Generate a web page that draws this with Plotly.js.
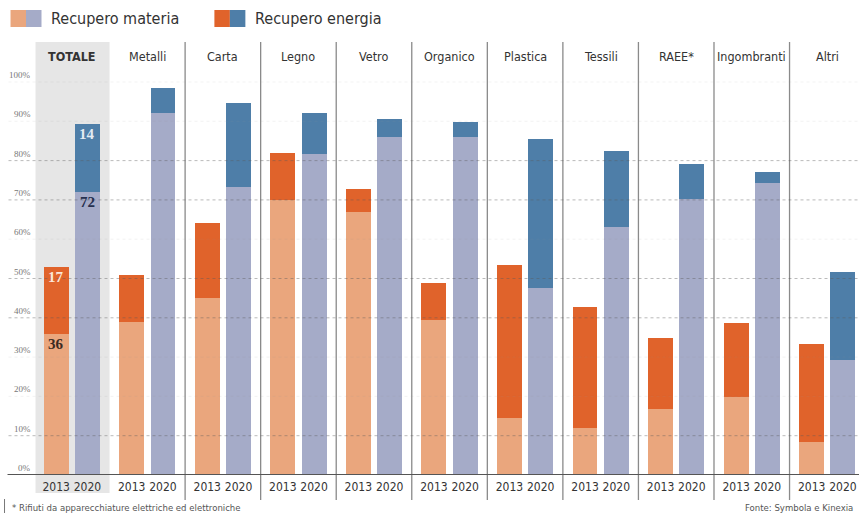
<!DOCTYPE html>
<html><head><meta charset="utf-8">
<script src="https://cdn.plot.ly/plotly-3.0.1.min.js"></script>
<style>html,body{margin:0;padding:0;background:#fff}#chart{width:859px;height:515px}</style>
</head><body><div id="chart"></div>
<script>
const categories = ["TOTALE","Metalli","Carta","Legno","Vetro","Organico","Plastica","Tessili","RAEE*","Ingombranti","Altri"];
const years = ["2013","2020"];
const materia2013 = [36, 39, 45, 70, 67, 39.4, 14.6, 12, 16.8, 19.9, 8.5];
const energia2013 = [17, 12, 19, 12, 5.7, 9.4, 38.8, 30.8, 18, 18.9, 24.8];
const materia2020 = [72, 92, 73.4, 81.6, 86, 86, 47.7, 63.2, 70.2, 74.2, 29.3];
const energia2020 = [17.4, 6.5, 21.3, 10.6, 4.5, 3.8, 37.8, 19.3, 8.9, 3, 22.4];
const totaleLabels2013 = ["36", "17"];
const totaleLabels2020 = ["72", "14"];
const yTicks = [0,10,20,30,40,50,60,70,80,90,100];
const strongGrid = [10,40,50,70,80];
const legendNames = ["Recupero materia", "Recupero energia"];
const footnote = "* Rifiuti da apparecchiature elettriche ed elettroniche";
const source = "Fonte: Symbola e Kinexia";

const C = {m13:"#eaa67d", e13:"#e0632b", m20:"#a5abc8", e20:"#4e7ea8"};
const L = 33.5, R = 859, T = 42, B = 475, W = R - L, H = B - T;
const px = x => (x - L) / W;
const py = y => (B - y) / H;
const OFF = 0.207, BW = 0.33;
const idx = categories.map((_, i) => i);
const x13 = idx.map(i => i - OFF), x20 = idx.map(i => i + OFF);

const bar = (x, y, color, name) => ({type:"bar", x, y, width:BW, marker:{color, line:{width:0}}, name, showlegend:false, hoverinfo:"y"});
const data = [
  bar(x13, materia2013, C.m13, legendNames[0]+" 2013"),
  bar(x13, energia2013, C.e13, legendNames[1]+" 2013"),
  bar(x20, materia2020, C.m20, legendNames[0]+" 2020"),
  bar(x20, energia2020, C.e20, legendNames[1]+" 2020")
];

const shapes = [];
shapes.push({type:"rect", xref:"x", yref:"paper", x0:-0.48, x1:0.5, y0:py(493), y1:1, fillcolor:"#e6e6e6", line:{width:0}, layer:"below"});
for (let i = 1; i < categories.length - 1; i++) {
  shapes.push({type:"line", xref:"x", yref:"paper", x0:i+0.5, x1:i+0.5, y0:py(500), y1:1, line:{color:"#8a8a8a", width:1.3}, layer:"above"});
}
yTicks.forEach(v => {
  if (v === 0) return;
  const strong = strongGrid.includes(v);
  shapes.push({type:"line", xref:"paper", yref:"y", x0:px(8), x1:1, y0:v, y1:v,
    line:{color: strong ? "rgba(90,90,90,0.42)" : "rgba(150,150,150,0.12)", width:1, dash:"dot"}, layer:"above"});
});
shapes.push({type:"line", xref:"paper", yref:"y", x0:px(7), x1:1, y0:0, y1:0, line:{color:"#555", width:2}, layer:"above"});
shapes.push({type:"line", xref:"paper", yref:"paper", x0:px(4), x1:px(4), y0:py(499), y1:py(513), line:{color:"#777", width:1}});
const sw = [[10, C.m13, C.m20],[214, C.e13, C.e20]];
sw.forEach(([x, a, b]) => {
  shapes.push({type:"rect", xref:"paper", yref:"paper", x0:px(x), x1:px(x+15.5), y0:py(27), y1:py(10), fillcolor:a, line:{width:0}});
  shapes.push({type:"rect", xref:"paper", yref:"paper", x0:px(x+15.5), x1:px(x+31), y0:py(27), y1:py(10), fillcolor:b, line:{width:0}});
});

const ann = [];
const sans = "DejaVu Sans Condensed, Liberation Sans Narrow, sans-serif";
ann.push({xref:"paper", yref:"paper", x:px(49), y:py(19), xanchor:"left", yanchor:"middle", text:legendNames[0], showarrow:false, font:{family:sans, size:16, color:"#333"}});
ann.push({xref:"paper", yref:"paper", x:px(253), y:py(19), xanchor:"left", yanchor:"middle", text:legendNames[1], showarrow:false, font:{family:sans, size:16, color:"#333"}});
categories.forEach((c, i) => {
  ann.push({xref:"x", yref:"paper", x:i, y:py(57), xanchor:"center", yanchor:"middle", showarrow:false,
    text: i === 0 ? "<b>"+c+"</b>" : c, font:{family:sans, size:12.5, color:"#333"}});
});
yTicks.forEach(v => {
  ann.push({xref:"paper", yref:"y", x:px(32), y:v, xanchor:"right", yanchor:"middle", yshift:7, showarrow:false,
    text: v + "%", font:{family:"Liberation Serif, serif", size:9, color:"#777"}});
});
const serif = "Liberation Serif, Georgia, serif";
ann.push({xref:"x", yref:"y", x:x13[0], y:materia2013[0], yshift:-10, yanchor:"middle", showarrow:false, text:"<b>"+totaleLabels2013[0]+"</b>", font:{family:serif, size:15, color:"#3b2a22"}});
ann.push({xref:"x", yref:"y", x:x13[0], y:materia2013[0]+energia2013[0], yshift:-10, yanchor:"middle", showarrow:false, text:"<b>"+totaleLabels2013[1]+"</b>", font:{family:serif, size:15, color:"#fbe6d8"}});
ann.push({xref:"x", yref:"y", x:x20[0], y:materia2020[0], yshift:-10, yanchor:"middle", showarrow:false, text:"<b>"+totaleLabels2020[0]+"</b>", font:{family:serif, size:15, color:"#26304f"}});
ann.push({xref:"x", yref:"y", x:x20[0], y:materia2020[0]+energia2020[0], yshift:-10, yanchor:"middle", showarrow:false, text:"<b>"+totaleLabels2020[1]+"</b>", font:{family:serif, size:15, color:"#e3eaf3"}});
ann.push({xref:"paper", yref:"paper", x:px(9), y:py(508), xanchor:"left", yanchor:"middle", showarrow:false, text:footnote, font:{family:sans, size:9.5, color:"#555"}});
ann.push({xref:"paper", yref:"paper", x:px(855), y:py(508), xanchor:"right", yanchor:"middle", showarrow:false, text:source, font:{family:sans, size:9.5, color:"#555"}});

const tickvals = [], ticktext = [];
idx.forEach(i => { tickvals.push(x13[i], x20[i]); ticktext.push(years[0], years[1]); });

const layout = {
  width:859, height:515, margin:{l:L, r:0, t:T, b:515-B}, paper_bgcolor:"#fff", plot_bgcolor:"rgba(0,0,0,0)",
  barmode:"stack", showlegend:false,
  xaxis:{range:[-0.5, -0.5 + W/75.6], tickvals, ticktext, ticks:"", tickangle:0, showgrid:false, zeroline:false, showline:false,
    tickfont:{family:sans, size:12, color:"#333"}, ticklabelstandoff:3, fixedrange:true},
  yaxis:{range:[0, H/3.93], showticklabels:false, showgrid:false, zeroline:false, showline:false, fixedrange:true},
  shapes, annotations:ann
};
Plotly.newPlot("chart", data, layout, {displayModeBar:false, staticPlot:true});
</script></body></html>
